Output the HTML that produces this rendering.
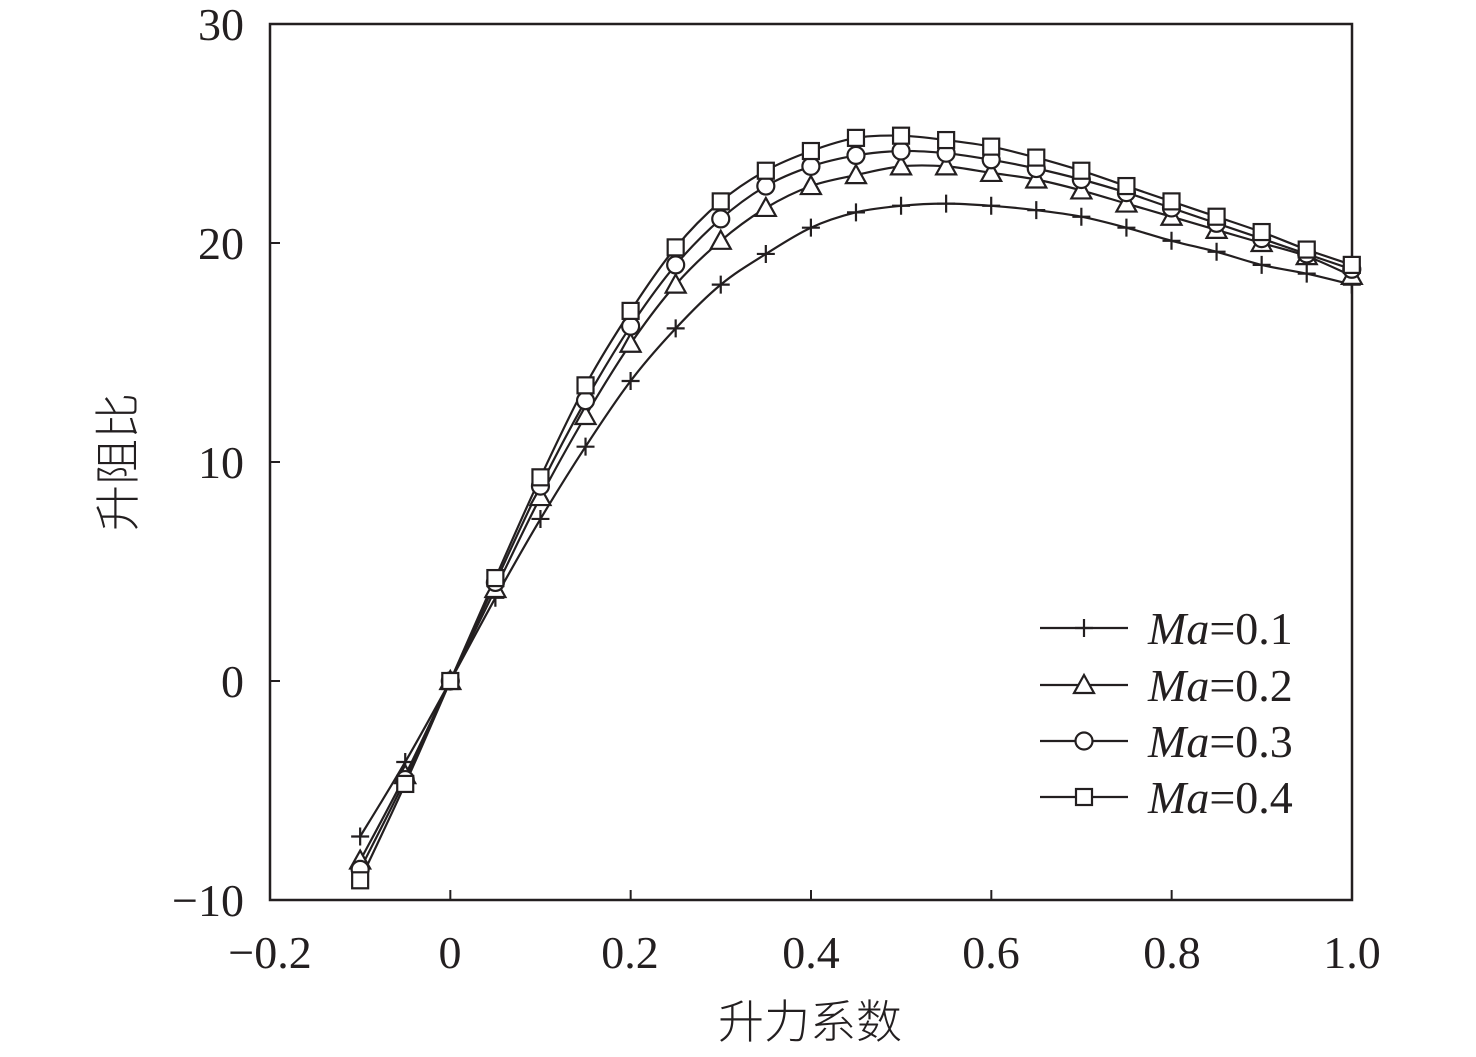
<!DOCTYPE html>
<html><head><meta charset="utf-8"><style>
html,body{margin:0;padding:0;background:#fff}
svg text{font-family:"Liberation Serif","Noto Serif CJK SC",serif;fill:#231f20}
</style></head><body>
<svg id="s" width="1476" height="1052" viewBox="0 0 1476 1052" xmlns="http://www.w3.org/2000/svg">
<rect x="270" y="24" width="1082" height="876" fill="none" stroke="#231f20" stroke-width="2.5"/>
<g id="ticks" stroke="#231f20" stroke-width="2"></g>
<g font-size="46" text-anchor="end">
<text x="244" y="40">30</text><text x="244" y="259">20</text><text x="244" y="478">10</text><text x="244" y="697">0</text><text x="244" y="916">−10</text>
</g>
<g font-size="46" text-anchor="middle">
<text x="270" y="968">−0.2</text><text x="450" y="968">0</text><text x="630" y="968">0.2</text><text x="811" y="968">0.4</text><text x="991" y="968">0.6</text><text x="1172" y="968">0.8</text><text x="1352" y="968">1.0</text>
</g>
<text x="810" y="1038" font-size="46" text-anchor="middle" style="font-family:'Noto Sans CJK SC',sans-serif;font-weight:300">升力系数</text>
<text transform="translate(134,462) rotate(-90)" font-size="46" text-anchor="middle" style="font-family:'Noto Sans CJK SC',sans-serif;font-weight:300">升阻比</text>
<g id="plot" fill="none" stroke="#231f20" stroke-width="2.2"></g>
<g font-size="46">
<text x="1148" y="644"><tspan font-style="italic">Ma</tspan>=0.1</text>
<text x="1148" y="701"><tspan font-style="italic">Ma</tspan>=0.2</text>
<text x="1148" y="757"><tspan font-style="italic">Ma</tspan>=0.3</text>
<text x="1148" y="813"><tspan font-style="italic">Ma</tspan>=0.4</text>
</g>
</svg>
<script>
var X=function(x){return 450.3+x*901.5},Y=function(y){return 681-y*21.9};
var xs=[];for(var i=0;i<23;i++)xs.push(-0.1+i*0.05);
var D=[
[-7.1,-3.7,0,3.8,7.4,10.7,13.7,16.1,18.1,19.5,20.7,21.4,21.7,21.8,21.7,21.5,21.2,20.7,20.1,19.6,19.0,18.6,18.1],
[-8.2,-4.3,0,4.2,8.4,12.1,15.4,18.1,20.1,21.6,22.6,23.1,23.5,23.5,23.2,22.9,22.4,21.8,21.2,20.6,20.0,19.4,18.5],
[-8.6,-4.5,0,4.5,8.9,12.8,16.2,19.0,21.1,22.6,23.5,24.0,24.2,24.1,23.8,23.4,22.9,22.3,21.6,20.9,20.2,19.5,18.8],
[-9.1,-4.7,0,4.7,9.3,13.5,16.9,19.8,21.9,23.3,24.2,24.8,24.9,24.7,24.4,23.9,23.3,22.6,21.9,21.2,20.5,19.7,19.0]];
var ns="http://www.w3.org/2000/svg",g=document.getElementById('plot'),t=document.getElementById('ticks');
function el(n,a,p){var e=document.createElementNS(ns,n);for(var k in a)e.setAttribute(k,a[k]);(p||g).appendChild(e);return e}
function mk(k,x,y){var r=9;
 if(k==0){el('path',{d:'M'+(x-r)+' '+y+'H'+(x+r)+'M'+x+' '+(y-r)+'V'+(y+r)})}
 else if(k==1){el('path',{d:'M'+x+' '+(y-10)+'L'+(x+10)+' '+(y+8)+'L'+(x-10)+' '+(y+8)+'Z',fill:'#fff'})}
 else if(k==2){el('circle',{cx:x,cy:y,r:8.5,fill:'#fff'})}
 else el('rect',{x:x-8,y:y-8,width:16,height:16,fill:'#fff'});}
for(var k=0;k<4;k++){
 var P=[];for(var i=0;i<23;i++)P.push([X(xs[i]),Y(D[k][i])]);
 var d='M'+P[0][0]+' '+P[0][1];
 for(var i=0;i<22;i++){var p0=P[Math.max(i-1,0)],p1=P[i],p2=P[i+1],p3=P[Math.min(i+2,22)];
  d+='C'+(p1[0]+(p2[0]-p0[0])/6).toFixed(1)+' '+(p1[1]+(p2[1]-p0[1])/6).toFixed(1)+' '+(p2[0]-(p3[0]-p1[0])/6).toFixed(1)+' '+(p2[1]-(p3[1]-p1[1])/6).toFixed(1)+' '+p2[0].toFixed(1)+' '+p2[1].toFixed(1);}
 el('path',{d:d});
}
for(var k=0;k<4;k++)for(var i=0;i<23;i++)mk(k,X(xs[i]),Y(D[k][i]));
var ly=[628,685,741,797];
for(var k=0;k<4;k++){el('path',{d:'M1040 '+ly[k]+'H1128'});mk(k,1084,ly[k]);}
for(var i=0;i<7;i++){var x=270+i*180.33;el('path',{d:'M'+x+' 900V890'},t)}
for(var i=0;i<5;i++){var y=24+i*219;el('path',{d:'M270 '+y+'H280'},t)}
</script>
</body></html>
